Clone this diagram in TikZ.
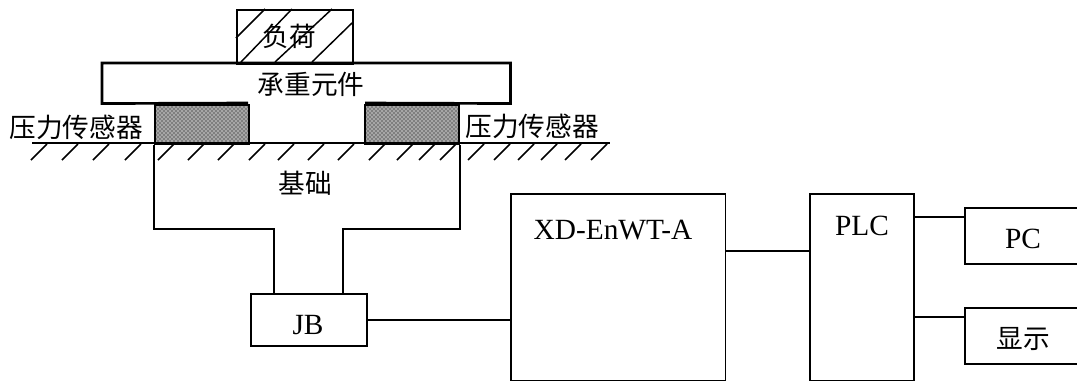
\documentclass[tikz,border=0pt]{standalone}
\usepackage{fontspec}
\setmainfont{Liberation Serif}
\newfontfamily\cjk{Noto Sans CJK SC}
\usetikzlibrary{patterns}

\begin{document}
\begin{tikzpicture}[x=0.75pt, y=-0.75pt, every node/.style={inner sep=0pt, font=\fontsize{20}{24}\selectfont},
	boxnode/.style={draw, line width=1.3pt, inner sep=0pt, anchor=north west},
	sensornode/.style={boxnode, preaction={fill=black!35}, pattern=crosshatch dots, minimum width=70.5pt, minimum height=29.5pt},
	latin/.style={font=\fontsize{22}{24}\selectfont},
	link/.style={line width=1.3pt},
	hatchline/.style={line width=1.1pt}]
	\useasboundingbox (0,0) rectangle (1077,383);
	
	\begin{scope}
	\clip (0,0) rectangle (1077,383);
	% load and beam
	\node[boxnode, minimum width=87pt, minimum height=40.5pt] (load) at (236,9) {};
	\draw[hatchline] (236,38) -- (265,9);
	\draw[hatchline] (241,62) -- (292,9);
	\draw[hatchline] (275,62) -- (332,9);
	\draw[hatchline] (312,62) -- (352,23);
	\node at (289,36) {\cjk 负荷};
	\node[draw=none, minimum width=306pt, minimum height=30pt, anchor=north west] (beam) at (102,63) {};
	\draw[line width=2pt] (248,103) -- (beam.south west) -- (beam.north west) -- (beam.north east) -- (beam.south east) -- (365,103);
	\node at (311,84) {\cjk 承重元件};
	
	% sensors
	\node[sensornode] (sensorl) at (154,104) {};
	\node[sensornode] (sensorr) at (364,104) {};
	\node (labell) at (76,127) {\cjk 压力传感器};
	\node (labelr) at (532,126) {\cjk 压力传感器};
	
	% ground
	\coordinate (g1) at (32,143);
	\coordinate (g2) at (610,143);
	\draw[link] (g1) -- (g2);
	\foreach \x in {47,78,109,141,174,204,234,265,294,324,354,385,413,435,456,484,510,534,557,581,607}
		\draw[hatchline] (\x,144) -- (\x-16,160);
	\node at (305,183) {\cjk 基础};
	
	% boxes
	\node[boxnode, minimum width=87pt, minimum height=39pt] (jb) at (250,293) {};
	\node[latin] at (308,325) {JB};
	\node[boxnode, minimum width=161pt, minimum height=140pt] (xd) at (510,193) {};
	\node[latin] at (613,230) {XD-EnWT-A};
	\node[boxnode, minimum width=78pt, minimum height=140pt] (plc) at (809,193) {};
	\node[latin] at (862,226) {PLC};
	\node[boxnode, minimum width=90pt, minimum height=42pt] (pc) at (964,207) {};
	\node[latin] at (1023,239) {PC};
	\node[boxnode, minimum width=90pt, minimum height=42pt] (show) at (964,307) {};
	\node at (1023,339) {\cjk 显示};
	
	% wires
	\coordinate (jl) at (274,229);
	\coordinate (jr) at (343,229);
	\draw[link] (sensorl.south west) -- (sensorl.south west |- jl) -- (jl) -- (jl |- jb.north);
	\draw[link] (sensorr.south east) -- (sensorr.south east |- jr) -- (jr) -- (jr |- jb.north);
	\draw[link] (jb.east) -- (jb.east -| xd.west);
	\coordinate (xp) at (725,251);
	\draw[link] (xp) -- (xp -| plc.west);
	\coordinate (pp) at (913,217);
	\coordinate (ps) at (913,317);
	\draw[link] (pp) -- (pp -| pc.west);
	\draw[link] (ps) -- (ps -| show.west);
	\end{scope}
\end{tikzpicture}
\end{document}
